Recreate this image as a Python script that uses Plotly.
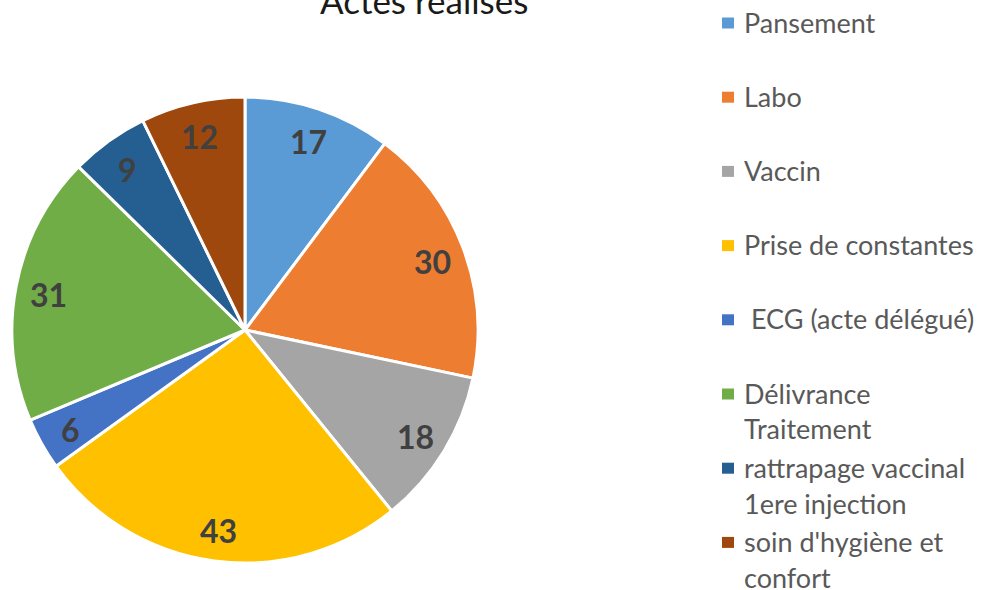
import math
import plotly.graph_objects as go

# ---- data ----
categories = ["Pansement", "Labo", "Vaccin", "Prise de constantes",
              "\u00a0ECG (acte délégué)", "Délivrance\nTraitement",
              "rattrapage vaccinal\n1ere injection", "soin d'hygiène et\nconfort"]
values = [17, 30, 18, 43, 6, 31, 9, 12]
title_text = "Actes réalisés"

# ---- styles ----
colors = ["#5B9BD5", "#ED7D31", "#A5A5A5", "#FFC000",
          "#4472C4", "#70AD47", "#255E91", "#9E480E"]
W, H = 981, 590
FONT = "Lato"
dom_x = [12 / W, 478 / W]
dom_y = [1 - 563 / H, 1 - 97 / H]

fig = go.Figure()
fig.add_trace(go.Pie(
    labels=[c.replace("\n", " ") for c in categories],
    values=values,
    sort=False,
    direction="clockwise",
    rotation=0,
    marker=dict(colors=colors, line=dict(color="white", width=3)),
    textinfo="none",
    hoverinfo="label+value",
    domain=dict(x=dom_x, y=dom_y),
    showlegend=False,
))

annotations = []
# data labels at 0.86 R along the slice mid-angle
cx = (dom_x[0] + dom_x[1]) / 2 * W
cy = (1 - (dom_y[0] + dom_y[1]) / 2) * H
R = min((dom_x[1] - dom_x[0]) * W, (dom_y[1] - dom_y[0]) * H) / 2
total = sum(values)
cum = 0
for v in values:
    mid = (cum + v / 2) / total * 2 * math.pi
    cum += v
    px = cx + 0.86 * R * math.sin(mid)
    py = cy - 0.86 * R * math.cos(mid)
    annotations.append(dict(
        x=px / W, y=1 - py / H, xref="paper", yref="paper",
        text=f"<b>{v}</b>", showarrow=False, xanchor="center", yanchor="middle",
        font=dict(family=FONT, size=32, color="#404040"), yshift=-2,
    ))

# title (partly cut off at top)
annotations.append(dict(
    x=424 / W, y=1, xref="paper", yref="paper", text=title_text,
    showarrow=False, xanchor="center", yanchor="bottom", yshift=-23,
    font=dict(family=FONT, size=35, color="#1a1a1a"),
))

# manual legend
shapes = []
leg_y0, leg_step, line_step = 23, 74.2, 36
for i, (cat, col) in enumerate(zip(categories, colors)):
    yc = leg_y0 + i * leg_step
    shapes.append(dict(type="rect", xref="paper", yref="paper",
                       x0=722 / W, x1=734 / W, y0=1 - (yc + 5.5) / H, y1=1 - (yc - 5.5) / H,
                       fillcolor=col, line=dict(width=0)))
    for j, line in enumerate(cat.split("\n")):
        annotations.append(dict(
            x=742 / W, y=1 - (yc + j * line_step) / H, xref="paper", yref="paper",
            text=line, showarrow=False, xanchor="left", yanchor="middle",
            font=dict(family=FONT, size=27, color="#595959"), yshift=1,
        ))

fig.update_layout(
    width=W, height=H,
    margin=dict(l=0, r=0, t=0, b=0),
    paper_bgcolor="white", plot_bgcolor="white",
    annotations=annotations, shapes=shapes,
    font=dict(family=FONT),
)
fig.write_html("out.html", config={"displayModeBar": False},
               post_script="document.body.style.margin='0';document.body.style.overflow='hidden';")
